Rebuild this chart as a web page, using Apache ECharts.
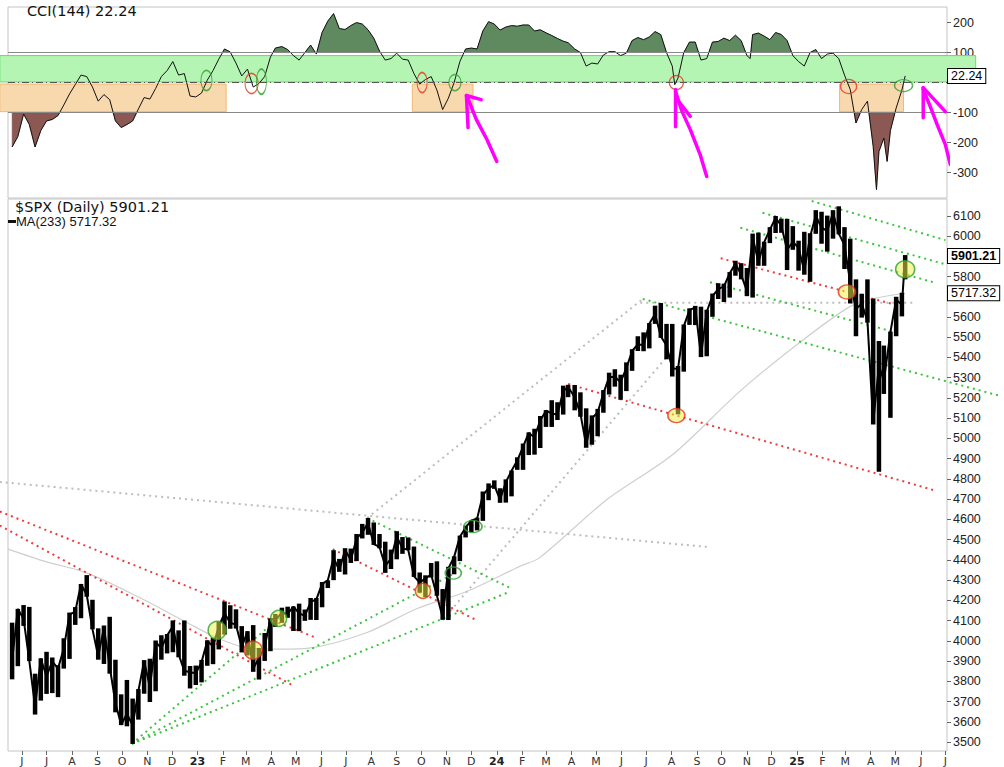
<!DOCTYPE html>
<html><head><meta charset="utf-8">
<script src="https://cdn.jsdelivr.net/npm/echarts@6/dist/echarts.min.js"></script>
<style>html,body{margin:0;padding:0;background:#fff}#c{width:1004px;height:767px}</style>
</head><body><div id="c"></div>
<script>
// ---------- DATA ----------
const weekDates = [
'2022-05-20','2022-05-27','2022-06-03','2022-06-10','2022-06-17','2022-06-24','2022-07-01','2022-07-08','2022-07-15','2022-07-22','2022-07-29','2022-08-05','2022-08-12','2022-08-19','2022-08-26','2022-09-02','2022-09-09','2022-09-16','2022-09-23','2022-09-30','2022-10-07','2022-10-14','2022-10-21','2022-10-28','2022-11-04','2022-11-11','2022-11-18','2022-11-25','2022-12-02','2022-12-09','2022-12-16','2022-12-23','2022-12-30',
'2023-01-06','2023-01-13','2023-01-20','2023-01-27','2023-02-03','2023-02-10','2023-02-17','2023-02-24','2023-03-03','2023-03-10','2023-03-17','2023-03-24','2023-03-31','2023-04-06','2023-04-14','2023-04-21','2023-04-28','2023-05-05','2023-05-12','2023-05-19','2023-05-26','2023-06-02','2023-06-09','2023-06-16','2023-06-23','2023-06-30','2023-07-07','2023-07-14','2023-07-21','2023-07-28','2023-08-04','2023-08-11','2023-08-18','2023-08-25','2023-09-01','2023-09-08','2023-09-15','2023-09-22','2023-09-29','2023-10-06','2023-10-13','2023-10-20','2023-10-27','2023-11-03','2023-11-10','2023-11-17','2023-11-24','2023-12-01','2023-12-08','2023-12-15','2023-12-22','2023-12-29',
'2024-01-05','2024-01-12','2024-01-19','2024-01-26','2024-02-02','2024-02-09','2024-02-16','2024-02-23','2024-03-01','2024-03-08','2024-03-15','2024-03-22','2024-03-28','2024-04-05','2024-04-12','2024-04-19','2024-04-26','2024-05-03','2024-05-10','2024-05-17','2024-05-24','2024-05-31','2024-06-07','2024-06-14','2024-06-21','2024-06-28','2024-07-05','2024-07-12','2024-07-19','2024-07-26','2024-08-02','2024-08-09','2024-08-16','2024-08-23','2024-08-30','2024-09-06','2024-09-13','2024-09-20','2024-09-27','2024-10-04','2024-10-11','2024-10-18','2024-10-25','2024-11-01','2024-11-08','2024-11-15','2024-11-22','2024-11-29','2024-12-06','2024-12-13','2024-12-20','2024-12-27',
'2025-01-03','2025-01-10','2025-01-17','2025-01-24','2025-01-31','2025-02-07','2025-02-14','2025-02-21','2025-02-28','2025-03-07','2025-03-14','2025-03-21','2025-03-28','2025-04-04','2025-04-11','2025-04-17','2025-04-25','2025-05-02','2025-05-09','2025-05-13'];
const weekHighs = [
4090,4158,4177,4168,3838,3914,3946,3918,3880,4013,4140,4167,4281,4325,4203,4062,4076,4119,3907,3736,3807,3715,3762,3905,3912,4002,4028,4034,4101,4052,4101,3876,3878,
3906,4003,4016,4095,4195,4176,4156,4073,4048,4078,3965,4039,4110,4133,4164,4169,4170,4184,4155,4212,4212,4291,4299,4448,4405,4458,4456,4528,4578,4607,4585,4528,4490,4451,4542,4513,4511,4466,4338,4324,4385,4393,4256,4366,4418,4520,4569,4595,4609,4738,4778,4793,
4754,4798,4842,4907,4975,5030,5048,5111,5140,5189,5179,5261,5265,5264,5228,5149,5114,5146,5239,5325,5342,5315,5376,5441,5505,5524,5570,5656,5669,5566,5566,5358,5563,5643,5655,5651,5636,5716,5767,5765,5822,5878,5866,5842,6012,6017,5972,6044,6099,6086,6085,6049,
5977,6021,6014,6128,6120,6101,6128,6147,6044,5987,5786,5715,5786,5691,5481,5459,5528,5700,5720,5906];
const weekLows = [
3810,3875,4074,3900,3636,3705,3738,3742,3722,3863,3911,4079,4112,4218,4057,3907,3886,3838,3647,3584,3578,3491,3611,3739,3698,3751,3907,3938,3944,3919,3828,3765,3782,
3795,3877,3885,3958,4031,4060,4061,3943,3928,3847,3809,3901,3949,4069,4089,4114,4049,4048,4099,4104,4103,4166,4261,4300,4341,4328,4385,4394,4506,4524,4474,4457,4336,4355,4403,4430,4448,4316,4238,4216,4313,4223,4104,4103,4329,4394,4511,4537,4546,4593,4695,4751,
4682,4683,4714,4845,4845,4918,4920,4953,5057,5057,5091,5118,5204,5139,5107,4954,4969,5011,5127,5217,5256,5191,5234,5334,5432,5431,5445,5566,5497,5391,5306,5119,5330,5561,5560,5402,5406,5601,5689,5674,5696,5804,5786,5703,5696,5853,5853,5965,6015,6016,5832,5932,
5829,5809,5774,6011,5962,5923,5987,6009,5837,5667,5505,5597,5572,5069,4835,5220,5102,5505,5603,5786];
const weekCloses = [
3901,4158,4109,3901,3675,3912,3825,3899,3863,3962,4130,4145,4280,4228,4058,3924,4067,3873,3693,3586,3640,3583,3753,3901,3771,3993,3965,4026,4072,3934,3852,3845,3840,
3895,3999,3973,4071,4136,4090,4079,3970,4046,3862,3917,3971,4109,4105,4138,4133,4169,4136,4124,4192,4205,4282,4299,4410,4348,4450,4399,4505,4536,4582,4478,4464,4370,4406,4516,4457,4450,4320,4288,4309,4327,4224,4117,4358,4415,4514,4559,4595,4604,4719,4755,4770,
4697,4784,4840,4891,4959,5027,5006,5089,5137,5124,5117,5234,5254,5204,5123,4967,5100,5128,5223,5303,5305,5278,5347,5432,5465,5460,5567,5615,5505,5459,5346,5344,5554,5634,5648,5408,5626,5703,5738,5751,5815,5864,5808,5729,5996,5871,5969,6032,6090,6051,5931,5971,
5942,5827,5997,6101,6041,6026,6115,6013,5955,5770,5639,5667,5581,5074,5363,5283,5525,5686,5660,5901.21];
const weekCCI = [
-215,-180,-105,-140,-215,-160,-128,-123,-110,-75,-38,-7,25,20,-15,-62,-40,-57,-128,-150,-140,-128,-88,-50,-55,-20,20,40,70,25,30,-45,-48,
-35,8,40,78,112,102,65,22,45,-15,-3,20,85,115,120,110,90,75,100,125,95,167,205,230,180,177,190,200,195,176,148,105,75,80,98,78,75,30,-5,10,20,-25,-90,-52,0,70,112,115,112,172,203,195,
175,185,190,188,192,192,172,176,166,157,147,138,133,112,100,55,65,62,92,103,103,90,98,140,150,143,152,170,160,100,55,15,100,135,135,75,80,135,137,148,140,158,140,90,160,165,155,143,167,160,140,90,
70,55,100,110,80,95,98,80,25,-23,-135,-90,-62,-213,-230,-185,-160,-85,-25,22.24];
const cciExtra = [['2024-08-05',-7],['2024-11-05',80],['2025-04-08',-357],['2025-04-21',-263]];
const maPoints = [['2022-05-15',4453],['2022-07-01',4390],['2022-08-19',4336],['2022-10-23',4213],['2022-12-19',4091],['2023-01-26',4013],['2023-03-05',3964],['2023-04-14',3959],['2023-05-17',3964],['2023-07-26',4040],['2023-09-26',4160],['2023-11-26',4245],['2024-01-30',4370],['2024-02-22',4410],['2024-05-14',4697],['2024-08-03',4922],['2024-10-24',5235],['2025-01-06',5479],['2025-03-06',5650],['2025-04-03',5689],['2025-05-13',5717.32]];
const priceTicks = [3500,3600,3700,3800,3900,4000,4100,4200,4300,4400,4500,4600,4700,4800,4900,5000,5100,5200,5300,5400,5500,5600,5700,5800,5900,6000,6100];
const priceTickLabels = [3500,3600,3700,3800,3900,4000,4100,4200,4300,4400,4500,4600,4700,4800,4900,5000,5100,5200,5300,5400,5500,5600,5800,6000,6100];
const cciTicks = [-300,-200,-100,0,100,200];
const cciTickLabels = [-300,-200,-100,100,200];
const lastClose = 5901.21, lastMA = 5717.32, lastCCI = 22.24;
// annotations (date, value)
const greenLines = [
 [['2022-10-13',3491],['2023-04-11',4115]],
 [['2022-10-13',3491],['2023-11-11',4335]],
 [['2022-10-13',3491],['2024-01-17',4243]],
 [['2023-07-27',4607],['2024-01-17',4262]],
 [['2025-01-19',6173],['2025-07-01',5980]],
 [['2024-11-20',6115],['2025-07-03',5858]],
 [['2024-10-24',6041],['2025-06-16',5772]],
 [['2024-09-17',5772],['2025-05-07',5518]],
 [['2024-06-27',5689],['2025-09-06',5210]]];
const redLines = [
 [['2022-05-05',4639],['2023-05-24',4018]],
 [['2022-05-05',4570],['2023-04-26',3783]],
 [['2023-06-15',4453],['2023-12-08',4101]],
 [['2024-09-30',5890],['2025-05-11',5650]],
 [['2024-03-28',5269],['2025-06-20',4741]]];
const grayLines = [
 [['2022-05-05',4785],['2024-09-17',4463]],
 [['2023-07-27',4607],['2024-06-27',5689]],
 [['2023-10-27',4103],['2024-08-02',5435]],
 [['2024-06-24',5670],['2025-05-23',5670]]];
const priceMarksRed = [['2023-03-10',3954],['2023-10-03',4247],['2024-08-07',5113],['2025-03-03',5724]];
const priceMarksGreen = [['2023-01-25',4052],['2023-04-10',4111],['2025-05-13',5836]];
const priceRingsGreen = [['2023-11-09',4335],['2023-12-03',4565]];
const cciRedMarks = [['2023-03-08',-3],['2023-10-02',0],['2024-08-07',0],['2025-03-05',-13]];
const cciGreenMarks = [['2023-01-12',7],['2023-03-20',3],['2023-11-11',0],['2025-05-11',-10]];
const cciBoxes = [['2022-05-05','2023-02-05'],['2023-09-20','2023-12-03'],['2025-02-22','2025-05-11']];
const cciBand = ['2022-05-05','2025-08-07'];
const arrows = [
 [['2024-01-01',-263],['2023-12-20',-190],['2023-12-07',-123],['2023-11-26',-47]],
 [['2023-11-25',-43],['2023-11-27',-150]],
 [['2023-11-25',-43],['2023-12-13',-57]],
 [['2024-09-13',-313],['2024-09-05',-240],['2024-08-24',-157],['2024-08-14',-97],['2024-08-06',-30]],
 [['2024-08-06',-23],['2024-08-06',-147]],
 [['2024-08-08',-57],['2024-08-24',-113]],
 [['2025-07-07',-273],['2025-07-01',-207],['2025-06-21',-140],['2025-06-13',-83],['2025-06-04',-23]],
 [['2025-06-04',-17],['2025-06-04',-117]],
 [['2025-06-04',-17],['2025-07-01',-97]]];

// ---------- BUILD ----------
const T = s => new Date(s + 'T00:00:00').getTime();
const xMin = T('2022-05-15'), xMax = T('2025-07-03');
const monthTicks = [];
for (let y = 2022, m = 5; ; ) { const t = new Date(y, m, 1).getTime(); if (t > xMax) break; monthTicks.push(t); m++; if (m > 11) { m = 0; y++; } }
const cciData = weekDates.map((d, i) => [T(d), weekCCI[i]]).concat(cciExtra.map(p => [T(p[0]), p[1]])).sort((a, b) => a[0] - b[0]);
const pts = arr => arr.map(p => [T(p[0]), p[1]]);
const segs = list => list.map(l => [T(l[0][0]), l[0][1], T(l[1][0]), l[1][1]]);
const cciRedSize = [[13,20],[10,20],[14,14],[16,14]];
const cciGreenSize = [[11,20],[10,25],[12,16],[18,12]];
const priceRedSize = [[18,18],[15,15],[17,14],[17,14]];
const priceGreenSize = [[18,18],[16,16],[19,17]];
const priceRingSize = [[16,12],[18,12]];
const axisFont = { fontFamily: 'Liberation Sans', fontSize: 12.5, color: '#222', formatter: v => String(v) };
const tag = (txt, bold) => ({ show: true, position: 'end', distance: 1, formatter: txt, fontFamily: 'Liberation Sans', fontSize: 12.5, fontWeight: bold ? 'bold' : 'normal', color: '#000', opacity: 1, backgroundColor: '#fff', borderColor: '#000', borderWidth: 1, padding: [1, 3, 0, 3] });
const hidden = { color: 'rgba(0,0,0,0)', width: 0.1 };
const hline = (v, style) => ({ yAxis: v, lineStyle: style, label: { show: false } });
const months = 'JFMAMJJASOND';

function polyLines(list, gi, style, z) {
  return list.map(l => ({ type: 'line', xAxisIndex: gi, yAxisIndex: gi, data: pts(l), symbol: 'none', clip: false, silent: true, z: z, lineStyle: style }));
}
function trendSeries(list, color, z) {
  return { type: 'custom', xAxisIndex: 1, yAxisIndex: 1, data: segs(list), encode: { x: [0, 2], y: [1, 3] }, clip: false, silent: true, z: z,
    renderItem: (params, api) => {
      const a = api.coord([api.value(0), api.value(1)]);
      const b = api.coord([api.value(2), api.value(3)]);
      return { type: 'line', shape: { x1: a[0], y1: a[1], x2: b[0], y2: b[1] }, style: { stroke: color, lineWidth: 2, lineDash: [2, 4] } };
    } };
}
// filled regions between the CCI polyline and a level (one polygon per contiguous run)
function fillSeries(level, above, color) {
  return { type: 'custom', xAxisIndex: 0, yAxisIndex: 0, data: cciData, encode: { x: 0, y: 1 }, silent: true, z: 2,
    renderItem: (params, api) => {
      if (params.dataIndex !== 0) return null;
      const inside = v => above ? v > level : v < level;
      const polys = []; let cur = null;
      for (let i = 0; i < cciData.length; i++) {
        const [t, v] = cciData[i];
        if (i > 0) {
          const [tp, vp] = cciData[i - 1];
          if (inside(v) !== inside(vp)) {
            const tc = tp + (t - tp) * (level - vp) / (v - vp);
            if (cur) { cur.push([tc, level]); polys.push(cur); cur = null; }
            else cur = [[tc, level]];
          }
        } else if (inside(v)) cur = [[t, level]];
        if (inside(v)) cur.push([t, v]);
      }
      if (cur) { cur.push([cciData[cciData.length - 1][0], level]); polys.push(cur); }
      return { type: 'group', children: polys.map(p => ({ type: 'polygon', shape: { points: p.map(q => api.coord(q)) }, style: { fill: color, stroke: color, lineWidth: 0.5 } })) };
    } };
}
function rectRender(params, api) {
  const a = api.coord([api.value(0), api.value(1)]);
  const b = api.coord([api.value(2), api.value(3)]);
  const st = params.dataIndex === 0 ? { fill: '#b4f5b4', stroke: '#66dd66', lineWidth: 1 } : { fill: '#f8d8ad', stroke: '#f2b877', lineWidth: 1 };
  return { type: 'rect', shape: { x: Math.min(a[0], b[0]), y: Math.min(a[1], b[1]), width: Math.abs(b[0] - a[0]), height: Math.abs(b[1] - a[1]) }, style: st };
}
const zoneData = [[T(cciBand[0]), 2, T(cciBand[1]), 90]].concat(cciBoxes.map(b => [T(b[0]), -5, T(b[1]), -97]));

const series = [
  { type: 'custom', xAxisIndex: 0, yAxisIndex: 0, data: zoneData, encode: { x: [0, 2], y: [1, 3] }, renderItem: rectRender, clip: false, silent: true, z: 1 },
  fillSeries(100, true, '#5f8a5f'),
  fillSeries(-100, false, '#8b5853'),
  { type: 'line', xAxisIndex: 0, yAxisIndex: 0, data: cciData, symbol: 'none', lineStyle: { color: '#111', width: 1 }, silent: true, z: 4,
    markLine: { silent: true, symbol: ['none', 'none'], data: [
      hline(100, { color: '#888', width: 1.2, type: 'solid' }),
      hline(-100, { color: '#888', width: 1.2, type: 'solid' }),
      hline(0, { color: '#555', width: 1, type: [7, 3, 1, 3] }),
      { yAxis: lastCCI, lineStyle: hidden, label: tag(lastCCI.toFixed(2), false) }
    ] } },
  { type: 'scatter', xAxisIndex: 0, yAxisIndex: 0, data: pts(cciRedMarks), symbol: 'circle', symbolSize: (v, p) => cciRedSize[p.dataIndex], itemStyle: { color: 'rgba(0,0,0,0)', borderColor: '#e8321e', borderWidth: 1.3 }, silent: true, z: 6 },
  { type: 'scatter', xAxisIndex: 0, yAxisIndex: 0, data: pts(cciGreenMarks), symbol: 'circle', symbolSize: (v, p) => cciGreenSize[p.dataIndex], itemStyle: { color: 'rgba(0,0,0,0)', borderColor: '#2ca02c', borderWidth: 1.3 }, silent: true, z: 6 }
].concat(
  polyLines(arrows, 0, { color: '#ff00ff', width: 3.5, cap: 'round', join: 'round' }, 8),
  [{ type: 'line', xAxisIndex: 1, yAxisIndex: 1, data: pts(maPoints), symbol: 'none', smooth: 0.3, lineStyle: { color: '#cfcfcf', width: 1.2 }, silent: true, z: 1 },
   trendSeries(grayLines, '#bdbdbd', 2),
   trendSeries(greenLines, '#3cc43c', 2),
   trendSeries(redLines, '#ee3b3b', 2),
   { type: 'custom', xAxisIndex: 1, yAxisIndex: 1, silent: true, z: 3,
     data: weekDates.map((d, i) => [T(d), weekLows[i], weekHighs[i]]),
     encode: { x: 0, y: [1, 2] },
     renderItem: (params, api) => {
       const a = api.coord([api.value(0), api.value(1)]);
       const b = api.coord([api.value(0), api.value(2)]);
       return { type: 'line', shape: { x1: a[0], y1: a[1], x2: b[0], y2: b[1] }, style: { stroke: '#000', lineWidth: 4.5 } };
     } },
   { type: 'line', xAxisIndex: 1, yAxisIndex: 1, data: weekDates.map((d, i) => [T(d), weekCloses[i]]), symbol: 'none', lineStyle: { color: '#000', width: 2 }, silent: true, z: 3,
     markLine: { silent: true, symbol: ['none', 'none'], data: [
       { yAxis: lastClose, lineStyle: hidden, label: tag(lastClose.toFixed(2), true) },
       { yAxis: lastMA, lineStyle: hidden, label: tag(lastMA.toFixed(2), false) }
     ] } },
   { type: 'scatter', xAxisIndex: 1, yAxisIndex: 1, data: pts(priceMarksRed), symbol: 'circle', symbolSize: (v, p) => priceRedSize[p.dataIndex], itemStyle: { color: 'rgba(240,240,70,0.65)', borderColor: '#e8321e', borderWidth: 1.5 }, silent: true, z: 6 },
   { type: 'scatter', xAxisIndex: 1, yAxisIndex: 1, data: pts(priceMarksGreen), symbol: 'circle', symbolSize: (v, p) => priceGreenSize[p.dataIndex], itemStyle: { color: 'rgba(240,240,70,0.65)', borderColor: '#2ca02c', borderWidth: 1.5 }, silent: true, z: 6 },
   { type: 'scatter', xAxisIndex: 1, yAxisIndex: 1, data: pts(priceRingsGreen), symbol: 'circle', symbolSize: (v, p) => priceRingSize[p.dataIndex], itemStyle: { color: 'rgba(0,0,0,0)', borderColor: '#2ca02c', borderWidth: 1.5 }, silent: true, z: 6 }]
);

const option = {
  animation: false,
  backgroundColor: '#fff',
  textStyle: { fontFamily: 'Liberation Sans' },
  title: [
    { text: 'CCI(144) ' + lastCCI.toFixed(2), left: 27, top: 3, padding: 0, textStyle: { fontFamily: 'DejaVu Sans', fontSize: 14.5, fontWeight: 'normal', color: '#111' } },
    { text: '$SPX (Daily) ' + lastClose.toFixed(2), left: 15, top: 199, padding: 0, textStyle: { fontFamily: 'DejaVu Sans', fontSize: 14.5, fontWeight: 'normal', color: '#111' } },
    { text: '{bar|}MA(233) ' + lastMA.toFixed(2), left: 8, top: 215, padding: 0, textStyle: { fontFamily: 'Liberation Sans', fontSize: 13, fontWeight: 'normal', color: '#111', rich: { bar: { width: 8, height: 3, backgroundColor: '#111' } } } }
  ],
  grid: [
    { left: 8, right: 57, top: 7, height: 191, show: true, borderColor: '#c4c4c4', borderWidth: 1, backgroundColor: 'transparent' },
    { left: 8, right: 57, top: 199, height: 558, show: true, borderColor: '#c4c4c4', borderWidth: 1, backgroundColor: 'transparent' }
  ],
  xAxis: [
    { type: 'value', gridIndex: 0, min: xMin, max: xMax, axisLine: { show: false }, axisTick: { show: false }, axisLabel: { show: false }, splitLine: { show: false } },
    { type: 'value', gridIndex: 1, min: xMin, max: xMax, axisLine: { show: false }, splitLine: { show: false },
      axisTick: { show: true, customValues: monthTicks, length: 4, lineStyle: { color: '#666' } },
      axisLabel: { customValues: monthTicks, margin: 5, fontFamily: 'DejaVu Sans', fontSize: 11, color: '#333',
        formatter: v => { const d = new Date(v); const m = d.getMonth(); return m === 0 ? '{y|' + String(d.getFullYear()).slice(2) + '}' : months[m]; },
        rich: { y: { fontFamily: 'DejaVu Sans', fontSize: 11, fontWeight: 'bold', color: '#222' } } } }
  ],
  yAxis: [
    { type: 'value', gridIndex: 0, position: 'right', min: -385, max: 252, axisLine: { show: false }, splitLine: { show: false },
      axisTick: { show: true, customValues: cciTicks, length: 4, lineStyle: { color: '#666' } },
      axisLabel: Object.assign({ customValues: cciTickLabels, margin: 6 }, axisFont) },
    { type: 'value', gridIndex: 1, position: 'right', min: 3456, max: 6183, axisLine: { show: false }, splitLine: { show: false },
      axisTick: { show: true, customValues: priceTicks, length: 4, lineStyle: { color: '#666' } },
      axisLabel: Object.assign({ customValues: priceTickLabels, margin: 6 }, axisFont) }
  ],
  series: series
};
const chart = echarts.init(document.getElementById('c'), null, { renderer: 'svg' });
chart.setOption(option);
</script>
</body></html>
